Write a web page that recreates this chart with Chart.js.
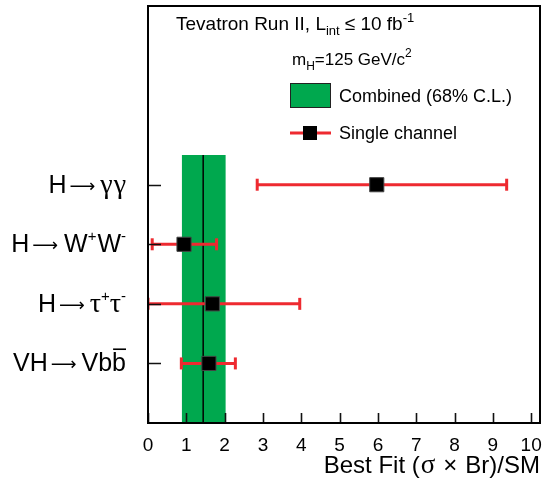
<!DOCTYPE html>
<html>
<head>
<meta charset="utf-8">
<script src="https://cdn.jsdelivr.net/npm/chart.js@4.4.0/dist/chart.umd.min.js"></script>
<style>
  html, body { margin: 0; padding: 0; background: #fff; }
</style>
</head>
<body>
<canvas id="chart" width="542" height="482"></canvas>
<script>
// channels, top to bottom
const channels = ['H→γγ', 'H→W+W-', 'H→τ+τ-', 'VH→Vbb'];
const bestFit = [5.97, 0.94, 1.68, 1.59];
const errLow = [2.85, 0.11, 0.0, 0.87];
const errHigh = [9.36, 1.79, 3.96, 2.28];

// combined fit, 68% C.L.
const combined = 1.44;
const combinedLow = 0.88;
const combinedHigh = 2.03;

const xTicks = [0, 1, 2, 3, 4, 5, 6, 7, 8, 9, 10];

const SANS = '"Liberation Sans", Arial, Helvetica, sans-serif';
const SERIF = '"Liberation Serif", "Times New Roman", serif';
const ARROW = '"DejaVu Sans", sans-serif';
const RED = 'rgb(238,42,48)';
const GREEN = 'rgb(0,168,78)';

// channel i sits at y = n - i, band goes half a row above the top one
const nCh = channels.length;
const rowY = channels.map((c, i) => nCh - i);
const yMax = nCh + 3;
const bandTop = nCh + 0.5;

// rich labels for the y axis (sub/superscripts drawn by hand)
const sup = (t) => ({ t, size: 15, dy: -11 });
const arrow = { t: '⟶', family: ARROW, size: 18, gap: 3, dy: -1 };
const greek = (t, gap) => ({ t, family: SERIF, size: 28, gap: gap || 0 });
const labelSegs = [
  [{ t: 'H' }, arrow, greek('γ', 5), greek('γ', 1)],
  [{ t: 'H' }, arrow, { t: 'W', gap: 6 }, sup('+'), { t: 'W', gap: 1 }, sup('-')],
  [{ t: 'H' }, arrow, greek('τ', 5), sup('+'), greek('τ'), sup('-')],
  [{ t: 'VH' }, arrow, { t: 'Vb', gap: 5 }, { t: 'b', bar: true }]
];
const xTitleSegs = [
  { t: 'Best Fit (' },
  { t: 'σ', family: SERIF, size: 27, gap: 1 },
  { t: '×', gap: 8 },
  { t: 'Br)/SM', gap: 8 }
];

function setFont(ctx, s, base) {
  ctx.font = (s.size || base) + 'px ' + (s.family || SANS);
}

function drawRich(ctx, segs, x, y, base, align) {
  let total = 0;
  for (const s of segs) {
    setFont(ctx, s, base);
    total += ctx.measureText(s.t).width + (s.gap || 0);
  }
  let cx = align === 'right' ? x - total : x;
  ctx.textAlign = 'left';
  ctx.textBaseline = 'alphabetic';
  for (const s of segs) {
    setFont(ctx, s, base);
    cx += s.gap || 0;
    ctx.fillText(s.t, cx, y + (s.dy || 0));
    const w = ctx.measureText(s.t).width;
    if (s.bar) ctx.fillRect(cx + 1, y - base * 0.92, w - 1, 1.6);
    cx += w;
  }
}

const framePlugin = {
  id: 'frame',
  afterDatasetsDraw(chart) {
    const { ctx, chartArea: a, scales: { x, y } } = chart;
    ctx.save();
    // inward ticks
    ctx.strokeStyle = '#111';
    ctx.lineWidth = 1.6;
    ctx.beginPath();
    xTicks.forEach(v => {
      const px = Math.round(x.getPixelForValue(v)) + 0.5;
      ctx.moveTo(px, a.bottom);
      ctx.lineTo(px, a.bottom - 10);
    });
    rowY.forEach(v => {
      const py = Math.round(y.getPixelForValue(v)) + 0.5;
      ctx.moveTo(a.left, py);
      ctx.lineTo(a.left + 13, py);
    });
    ctx.stroke();
    // frame
    ctx.strokeStyle = '#000';
    ctx.lineWidth = 2;
    ctx.strokeRect(a.left, a.top, a.right - a.left, a.bottom - a.top);
    ctx.restore();
  },
  afterDraw(chart) {
    const { ctx, chartArea: a, scales: { y } } = chart;
    ctx.save();
    ctx.fillStyle = '#000';
    // y labels
    labelSegs.forEach((segs, i) => {
      drawRich(ctx, segs, a.left - 22, y.getPixelForValue(rowY[i]) + 8, 25, 'right');
    });
    // x title
    drawRich(ctx, xTitleSegs, a.right, 473, 24, 'right');
    // header text
    drawRich(ctx, [
      { t: 'Tevatron Run II, L' }, { t: 'int', size: 13, dy: 5 },
      { t: '≤', gap: 5 }, { t: ' 10 fb' }, { t: '-1', size: 13, dy: -8 }
    ], a.left + 28, a.top + 24, 19, 'left');
    drawRich(ctx, [
      { t: 'm' }, { t: 'H', size: 12, dy: 5 }, { t: '=125 GeV/c' }, { t: '2', size: 12, dy: -8 }
    ], a.left + 144, a.top + 59, 17, 'left');
    // legend: combined box
    const lx = a.left + 142;
    ctx.fillStyle = GREEN;
    ctx.fillRect(lx, a.top + 77, 41, 25);
    ctx.strokeStyle = '#222';
    ctx.lineWidth = 1;
    ctx.strokeRect(lx + 0.5, a.top + 77.5, 40, 24);
    ctx.fillStyle = '#000';
    drawRich(ctx, [{ t: 'Combined (68% C.L.)' }], a.left + 191, a.top + 96, 18, 'left');
    // legend: single channel
    ctx.strokeStyle = RED;
    ctx.lineWidth = 3;
    ctx.beginPath();
    ctx.moveTo(lx, a.top + 127);
    ctx.lineTo(lx + 41, a.top + 127);
    ctx.stroke();
    ctx.fillStyle = '#000';
    ctx.fillRect(lx + 13, a.top + 120, 14, 14);
    drawRich(ctx, [{ t: 'Single channel' }], a.left + 191, a.top + 133, 18, 'left');
    ctx.restore();
  }
};

const datasets = [];
// markers on top
datasets.push({
  data: bestFit.map((v, i) => ({ x: v, y: rowY[i] })),
  showLine: false,
  pointStyle: 'rect',
  pointRadius: 10,
  pointBackgroundColor: '#000',
  pointBorderColor: '#444',
  pointBorderWidth: 1
});
// error bars with caps
channels.forEach((c, i) => {
  datasets.push({
    data: [{ x: errLow[i], y: rowY[i] }, { x: errHigh[i], y: rowY[i] }],
    borderColor: RED,
    borderWidth: 3,
    pointStyle: 'line',
    rotation: 90,
    pointRadius: 6,
    pointBorderColor: RED,
    pointBorderWidth: 3,
    fill: false
  });
});
// combined central value
datasets.push({
  data: [{ x: combined, y: 0 }, { x: combined, y: bandTop }],
  borderColor: '#000',
  borderWidth: 1.5,
  pointRadius: 0,
  fill: false
});
// combined band
datasets.push({
  data: [{ x: combinedLow, y: bandTop }, { x: combinedHigh, y: bandTop }],
  borderWidth: 0,
  borderColor: GREEN,
  backgroundColor: GREEN,
  pointRadius: 0,
  fill: 'origin'
});

new Chart(document.getElementById('chart'), {
  type: 'line',
  data: { datasets },
  options: {
    responsive: false,
    animation: false,
    events: [],
    layout: { autoPadding: false, padding: { left: 148, right: 2, top: 6, bottom: 0 } },
    plugins: { legend: { display: false }, tooltip: { enabled: false } },
    scales: {
      x: {
        type: 'linear',
        min: 0,
        max: 10.23,
        grid: { display: false },
        border: { display: false },
        afterBuildTicks: s => { s.ticks = xTicks.map(v => ({ value: v })); },
        afterFit: s => { s.height = 59; s.paddingLeft = 0; s.paddingRight = 0; },
        ticks: { color: '#000', font: { family: SANS, size: 19 }, padding: 3, maxRotation: 0, autoSkip: false }
      },
      y: { type: 'linear', min: 0, max: yMax, display: false }
    }
  },
  plugins: [framePlugin]
});
</script>
</body>
</html>
